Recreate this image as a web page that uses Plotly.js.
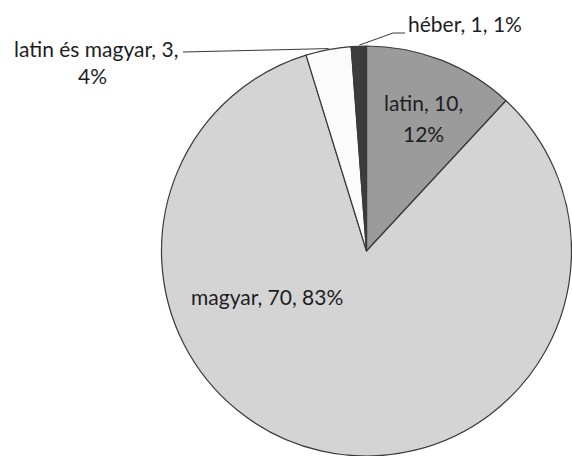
<!DOCTYPE html>
<html>
<head>
<meta charset="utf-8">
<script src="https://cdn.plot.ly/plotly-3.0.1.min.js"></script>
<style>html,body{margin:0;padding:0;background:#fff;}#chart{width:572px;height:456px;}</style>
</head>
<body>
<div id="chart"></div>
<script>
var categories = ["latin", "magyar", "latin és magyar", "héber"];
var values = [10, 70, 3, 1];
var percents = ["12%", "83%", "4%", "1%"];
var colors = ["#9b9b9b", "#d4d4d4", "#fbfbfb", "#3c3c3c"];

var W = 572, H = 456;
var cx = 367, cy = 252, R = 206;
function px(x) { return x / W; }
function py(y) { return 1 - y / H; }

var total = values.reduce(function (a, b) { return a + b; }, 0);
var mids = [];
var acc = 0;
values.forEach(function (v) { mids.push((acc + v / 2) / total * 360); acc += v; });
function edgePoint(i, r) {
  var a = mids[i] * Math.PI / 180;
  return [cx + r * Math.sin(a), cy - r * Math.cos(a)];
}

var font = { family: "Lato, sans-serif", size: 21, color: "#1e1e1e" };

var trace = {
  type: "pie",
  labels: categories,
  values: values,
  sort: false,
  direction: "clockwise",
  rotation: 0,
  textinfo: "none",
  hoverinfo: "label+value+percent",
  marker: { colors: colors, line: { color: "#3a3a3a", width: 1.2 } },
  domain: { x: [px(cx - R), Math.min(1, px(cx + R))], y: [py(cy + R), py(cy - R)] },
  showlegend: false
};

var annotations = [
  { x: px(423), y: py(103), text: categories[0] + ", " + values[0] + ",", xanchor: "center", yanchor: "middle" },
  { x: px(423), y: py(133), text: percents[0], xanchor: "center", yanchor: "middle" },
  { x: px(267), y: py(296), text: categories[1] + ", " + values[1] + ", " + percents[1], xanchor: "center", yanchor: "middle" },
  { x: px(180), y: py(48), text: categories[2] + ", " + values[2] + ",", xanchor: "right", yanchor: "middle" },
  { x: px(92), y: py(76), text: percents[2], xanchor: "center", yanchor: "middle" },
  { x: px(406), y: py(24), text: categories[3] + ", " + values[3] + ", " + percents[3], xanchor: "left", yanchor: "middle" }
].map(function (a) {
  a.xref = "paper"; a.yref = "paper"; a.showarrow = false; a.font = font;
  return a;
});

var pLM = edgePoint(2, R);
var pH = edgePoint(3, R);
var shapes = [
  { type: "line", x0: px(183), y0: py(52), x1: px(pLM[0]), y1: py(pLM[1] - 1) },
  { type: "line", x0: px(pH[0]), y0: py(pH[1] - 1), x1: px(393), y1: py(33) },
  { type: "line", x0: px(393), y0: py(33), x1: px(405), y1: py(33) }
].map(function (s) {
  s.xref = "paper"; s.yref = "paper"; s.line = { color: "#3a3a3a", width: 1 };
  return s;
});

var layout = {
  width: W, height: H,
  margin: { l: 0, r: 0, t: 0, b: 0 },
  paper_bgcolor: "#ffffff",
  annotations: annotations,
  shapes: shapes
};

Plotly.newPlot("chart", [trace], layout, { displayModeBar: false, staticPlot: true });
</script>
</body>
</html>
